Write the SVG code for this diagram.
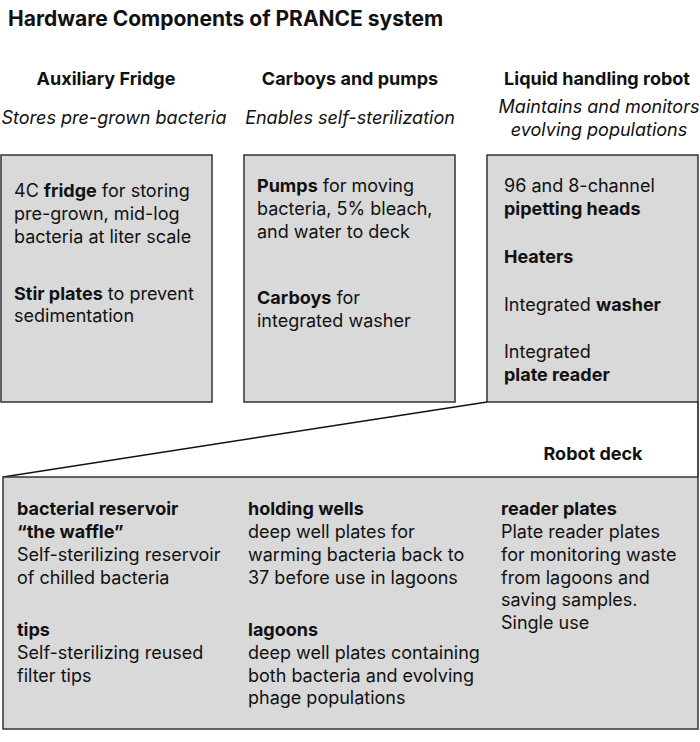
<svg xmlns="http://www.w3.org/2000/svg" width="700" height="742" viewBox="0 0 700 742">
<style>
text{font-family:Inter,"Noto Sans","Liberation Sans",sans-serif;fill:#111;font-size:18px}
.t{font-size:21px;font-weight:700}
.h{font-weight:700;text-anchor:middle}
.s{font-style:italic;text-anchor:middle}
.b{font-weight:700}
.box{fill:#d9d9d9;stroke:#333;stroke-width:1.5}
.ln{fill:none;stroke:#111;stroke-width:1.5}
</style>
<rect width="700" height="742" fill="#fff"/>
<text class="t" x="8" y="26">Hardware Components of PRANCE system</text>
<g id="fridge">
<text class="h" x="106" y="85">Auxiliary Fridge</text>
<text class="s" x="114" y="124">Stores pre-grown bacteria</text>
<rect class="box" x="1" y="155" width="211" height="247"/>
<text x="14" y="197">4C <tspan class="b">fridge</tspan> for storing</text>
<text x="14" y="220">pre-grown, mid-log</text>
<text x="14" y="243">bacteria at liter scale</text>
<text x="14" y="300"><tspan class="b">Stir plates</tspan> to prevent</text>
<text x="14" y="322">sedimentation</text>
</g>
<g id="carboys">
<text class="h" x="350" y="85">Carboys and pumps</text>
<text class="s" x="350" y="124">Enables self-sterilization</text>
<rect class="box" x="244" y="155" width="211" height="247"/>
<text x="257" y="192"><tspan class="b">Pumps</tspan> for moving</text>
<text x="257" y="215">bacteria, 5% bleach,</text>
<text x="257" y="238">and water to deck</text>
<text x="257" y="304"><tspan class="b">Carboys</tspan> for</text>
<text x="257" y="327">integrated washer</text>
</g>
<g id="robot">
<text class="h" x="597" y="85">Liquid handling robot</text>
<text class="s" x="599" y="113">Maintains and monitors</text>
<text class="s" x="599" y="136">evolving populations</text>
<rect class="box" x="487" y="155" width="211" height="247"/>
<text x="504" y="192">96 and 8-channel</text>
<text class="b" x="504" y="215">pipetting heads</text>
<text class="b" x="504" y="263">Heaters</text>
<text x="504" y="311">Integrated <tspan class="b">washer</tspan></text>
<text x="504" y="358">Integrated</text>
<text class="b" x="504" y="381">plate reader</text>
</g>
<g id="connectors">
<line class="ln" x1="3" y1="477" x2="487" y2="402"/>
<line class="ln" x1="698" y1="402" x2="698" y2="477"/>
</g>
<g id="deck">
<text class="h" x="593" y="460">Robot deck</text>
<rect class="box" x="3" y="477" width="695" height="252"/>
<text class="b" x="17" y="515">bacterial reservoir</text>
<text class="b" x="17" y="538">“the waffle”</text>
<text x="17" y="561">Self-sterilizing reservoir</text>
<text x="17" y="584">of chilled bacteria</text>
<text class="b" x="17" y="636">tips</text>
<text x="17" y="659">Self-sterilizing reused</text>
<text x="17" y="682">filter tips</text>
<text class="b" x="248" y="515">holding wells</text>
<text x="248" y="538">deep well plates for</text>
<text x="248" y="561">warming bacteria back to</text>
<text x="248" y="584">37 before use in lagoons</text>
<text class="b" x="248" y="636">lagoons</text>
<text x="248" y="659">deep well plates containing</text>
<text x="248" y="682">both bacteria and evolving</text>
<text x="248" y="704">phage populations</text>
<text class="b" x="501" y="515">reader plates</text>
<text x="501" y="538">Plate reader plates</text>
<text x="501" y="561">for monitoring waste</text>
<text x="501" y="584">from lagoons and</text>
<text x="501" y="606">saving samples.</text>
<text x="501" y="629">Single use</text>
</g>
</svg>
